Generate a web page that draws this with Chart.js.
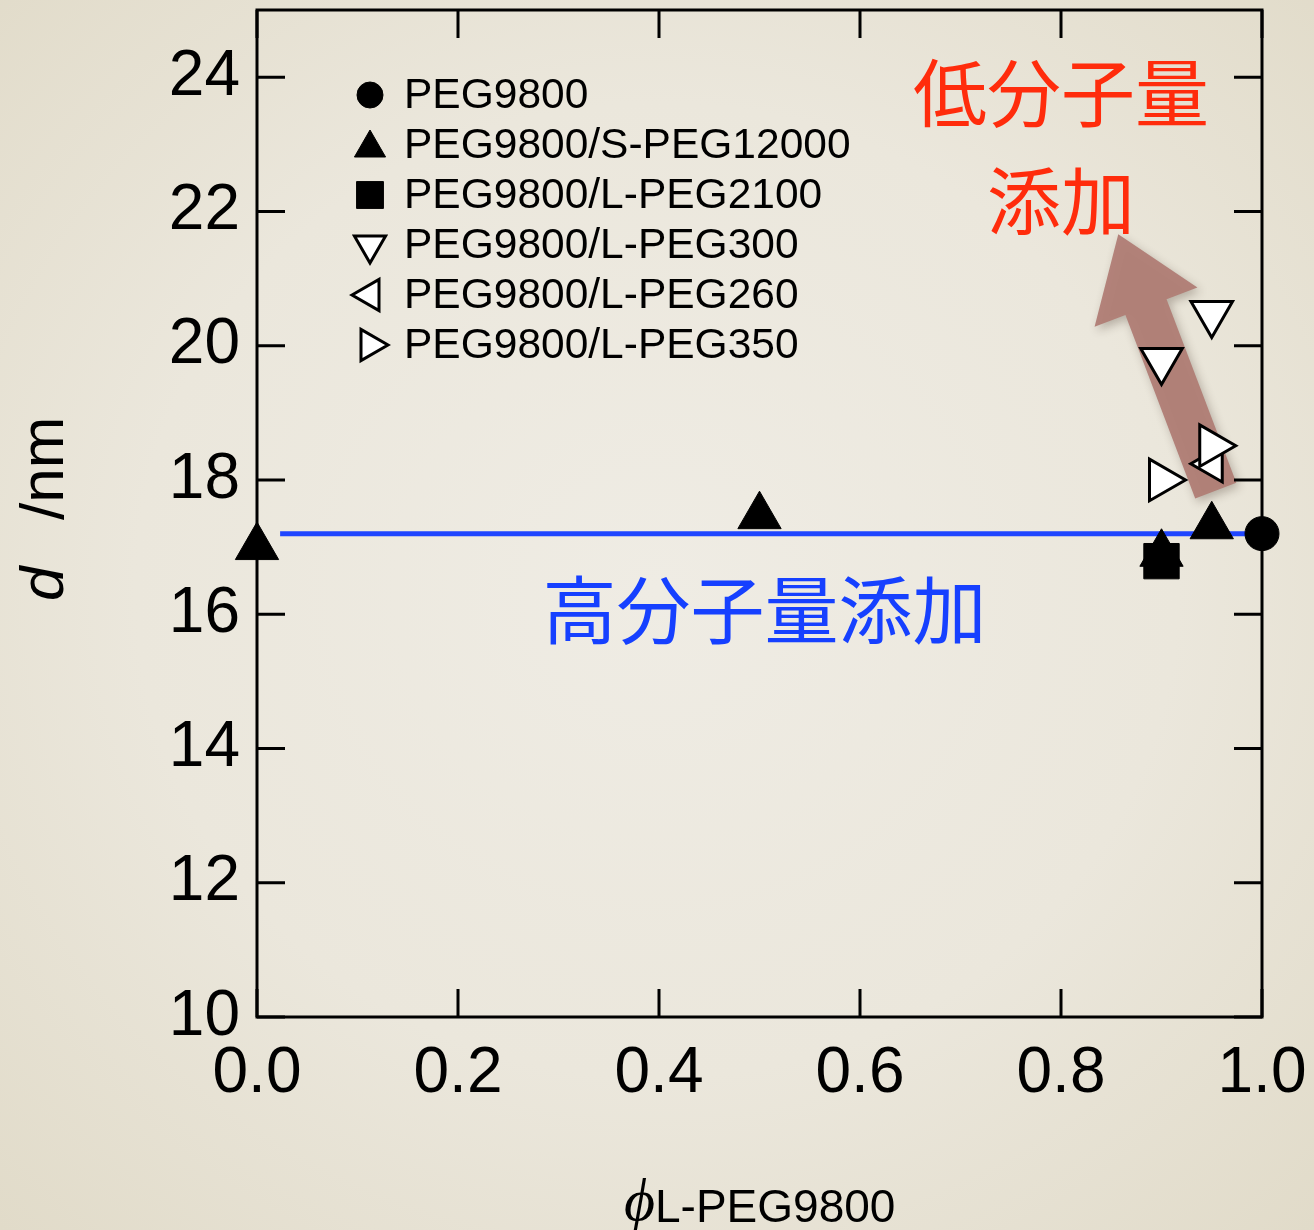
<!DOCTYPE html>
<html>
<head>
<meta charset="utf-8">
<script src="https://cdn.jsdelivr.net/npm/chart.js@4.4.1/dist/chart.umd.min.js"></script>
<style>
  html, body { margin: 0; padding: 0; }
  body {
    width: 1314px; height: 1230px; overflow: hidden;
    background: radial-gradient(ellipse 72% 72% at 50% 48%, #efece4 0%, #ebe7dc 55%, #e1dbc9 100%);
  }
  #wrap { position: relative; width: 1314px; height: 1230px; }
</style>
</head>
<body>
<div id="wrap"><canvas id="c" width="1314" height="1230"></canvas></div>
<script>
// Axis ticks
const xTicks = [0.0, 0.2, 0.4, 0.6, 0.8, 1.0];
const yTicks = [10, 12, 14, 16, 18, 20, 22, 24];

// Series: volume fraction of L-PEG9800 vs gel mesh size d (nm)
const peg9800X = [1.0];
const peg9800D = [17.2];
const sPeg12000X = [0.0, 0.5, 0.9, 0.95];
const sPeg12000D = [17.0, 17.46, 16.9, 17.31];
const lPeg2100X = [0.9];
const lPeg2100D = [16.79];
const lPeg300X = [0.9, 0.95];
const lPeg300D = [19.78, 20.48];
const lPeg260X = [0.95];
const lPeg260D = [18.24];
const lPeg350X = [0.9, 0.95];
const lPeg350D = [18.0, 18.51];

// Guide line for the high-molecular-weight additive level
const guideX = [0.023, 0.99];
const guideD = [17.2, 17.2];

// Arrow toward the low-molecular-weight additive points (tail -> tip)
const arrowX = [0.954, 0.857];
const arrowD = [17.84, 21.66];

const seriesLabels = ['PEG9800', 'PEG9800/S-PEG12000', 'PEG9800/L-PEG2100',
  'PEG9800/L-PEG300', 'PEG9800/L-PEG260', 'PEG9800/L-PEG350'];

const pts = (xs, ys) => xs.map((x, i) => ({ x: x, y: ys[i] }));

const FONT = "'Liberation Sans', Arial, sans-serif";
const CJK = "'Noto Sans CJK JP', 'Noto Sans CJK SC', sans-serif";

function markerSet(label, data, style, rotation, radius, filled, order) {
  return {
    label: label,
    data: data,
    pointStyle: style,
    rotation: rotation,
    pointRadius: radius,
    pointHoverRadius: radius,
    pointBackgroundColor: filled ? '#000' : '#fff',
    pointBorderColor: '#000',
    pointBorderWidth: filled ? 1 : 3,
    showLine: false,
    clip: false,
    order: order,
    legendRadius: style === 'circle' ? 13 : (style === 'rect' ? 19 : 18),
    filled: filled
  };
}

const datasets = [
  markerSet(seriesLabels[0], pts(peg9800X, peg9800D), 'circle', 0, 17, true, 1),
  markerSet(seriesLabels[1], pts(sPeg12000X, sPeg12000D), 'triangle', 0, 25, true, 3),
  markerSet(seriesLabels[2], pts(lPeg2100X, lPeg2100D), 'rect', 0, 25, true, 2),
  markerSet(seriesLabels[3], pts(lPeg300X, lPeg300D), 'triangle', 180, 24, false, 4),
  markerSet(seriesLabels[4], pts(lPeg260X, lPeg260D), 'triangle', 270, 21, false, 6),
  markerSet(seriesLabels[5], pts(lPeg350X, lPeg350D), 'triangle', 90, 24, false, 5),
  {
    label: 'guide',
    data: pts(guideX, guideD),
    showLine: true,
    borderColor: '#1f45ff',
    borderWidth: 5,
    pointRadius: 0,
    pointHoverRadius: 0,
    clip: false,
    order: 10,
    isGuide: true
  }
];

// Translucent arrow drawn under the markers
const arrowPlugin = {
  id: 'arrow',
  beforeDatasetsDraw(chart) {
    const { ctx, scales: { x, y } } = chart;
    const x0 = x.getPixelForValue(arrowX[0]), y0 = y.getPixelForValue(arrowD[0]);
    const x1 = x.getPixelForValue(arrowX[1]), y1 = y.getPixelForValue(arrowD[1]);
    const dx = x1 - x0, dy = y1 - y0, len = Math.hypot(dx, dy);
    const ux = dx / len, uy = dy / len, nx = -uy, ny = ux;
    const shaftHalf = 22, headHalf = 55, headLen = 78;
    const bx = x1 - ux * headLen, by = y1 - uy * headLen;
    ctx.save();
    ctx.beginPath();
    ctx.moveTo(x0 + nx * shaftHalf, y0 + ny * shaftHalf);
    ctx.lineTo(bx + nx * shaftHalf, by + ny * shaftHalf);
    ctx.lineTo(bx + nx * headHalf, by + ny * headHalf);
    ctx.lineTo(x1, y1);
    ctx.lineTo(bx - nx * headHalf, by - ny * headHalf);
    ctx.lineTo(bx - nx * shaftHalf, by - ny * shaftHalf);
    ctx.lineTo(x0 - nx * shaftHalf, y0 - ny * shaftHalf);
    ctx.closePath();
    ctx.shadowColor = 'rgba(60,40,30,0.3)';
    ctx.shadowBlur = 10;
    ctx.shadowOffsetX = 3;
    ctx.shadowOffsetY = 4;
    ctx.fillStyle = 'rgba(176,126,118,0.96)';
    ctx.fill();
    ctx.restore();
  }
};

// Frame with inward ticks on all four sides, legend, annotations and axis titles
const decorPlugin = {
  id: 'decor',
  afterDatasetsDraw(chart) {
    const { ctx, chartArea: a, scales: { x, y } } = chart;
    ctx.save();
    // frame
    ctx.strokeStyle = '#000';
    ctx.lineWidth = 3;
    ctx.strokeRect(a.left, a.top, a.right - a.left, a.bottom - a.top);
    const tl = 28;
    ctx.beginPath();
    xTicks.forEach(v => {
      const px = x.getPixelForValue(v);
      ctx.moveTo(px, a.bottom); ctx.lineTo(px, a.bottom - tl);
      ctx.moveTo(px, a.top); ctx.lineTo(px, a.top + tl);
    });
    yTicks.forEach(v => {
      const py = y.getPixelForValue(v);
      ctx.moveTo(a.left, py); ctx.lineTo(a.left + tl, py);
      ctx.moveTo(a.right, py); ctx.lineTo(a.right - tl, py);
    });
    ctx.stroke();

    // legend
    const lx = 370, ly0 = 95, step = 50;
    chart.data.datasets.forEach((ds, i) => {
      if (ds.isGuide) return;
      const yy = ly0 + i * step;
      ctx.fillStyle = ds.filled ? '#000' : '#fff';
      ctx.strokeStyle = '#000';
      ctx.lineWidth = ds.filled ? 1 : 3;
      Chart.helpers.drawPoint(ctx, {
        pointStyle: ds.pointStyle, rotation: ds.rotation,
        radius: ds.legendRadius, borderWidth: ctx.lineWidth
      }, lx, yy + (ds.pointStyle === 'triangle' && ds.rotation === 0 ? 3 : 0));
      ctx.fillStyle = '#000';
      ctx.font = '42.5px ' + FONT;
      ctx.textBaseline = 'middle';
      ctx.textAlign = 'left';
      ctx.fillText(ds.label, 404, yy + 1);
    });

    // annotations
    ctx.font = '74px ' + CJK;
    ctx.textAlign = 'center';
    ctx.textBaseline = 'middle';
    ctx.fillStyle = '#ff2c0c';
    ctx.fillText('低分子量', x.getPixelForValue(0.8), y.getPixelForValue(23.76));
    ctx.fillText('添加', x.getPixelForValue(0.8), y.getPixelForValue(22.16));
    ctx.fillStyle = '#1640ff';
    ctx.fillText('高分子量添加', x.getPixelForValue(0.505), y.getPixelForValue(16.06));

    // x-axis title
    ctx.fillStyle = '#000';
    ctx.textBaseline = 'alphabetic';
    ctx.textAlign = 'left';
    ctx.font = 'italic 60px "Liberation Serif", serif';
    ctx.fillText('ϕ', 624, 1220);
    ctx.font = '46px ' + FONT;
    ctx.fillText('L-PEG9800', 655, 1222);

    // y-axis title
    ctx.save();
    ctx.translate(63, 0);
    ctx.rotate(-Math.PI / 2);
    ctx.textAlign = 'left';
    ctx.textBaseline = 'alphabetic';
    ctx.font = 'italic 62px ' + FONT;
    ctx.fillText('d', -601, 0);
    ctx.font = '62px ' + FONT;
    ctx.fillText('/nm', -520, 0);
    ctx.restore();
    ctx.restore();
  }
};

new Chart(document.getElementById('c'), {
  type: 'scatter',
  data: { datasets: datasets },
  options: {
    responsive: false,
    devicePixelRatio: 1,
    animation: false,
    events: [],
    layout: { autoPadding: false, padding: { left: 0, top: 10, right: 52, bottom: 0 } },
    plugins: { legend: { display: false }, tooltip: { enabled: false } },
    scales: {
      x: {
        type: 'linear', min: 0, max: 1,
        afterBuildTicks: s => { s.ticks = xTicks.map(v => ({ value: v })); },
        afterFit: s => { s.height = 213; s.paddingLeft = 0; s.paddingRight = 0; },
        ticks: {
          callback: v => Number(v).toFixed(1),
          font: { family: FONT, size: 64 }, color: '#000',
          padding: 19, maxRotation: 0, autoSkip: false
        },
        grid: { display: true, drawOnChartArea: false, drawTicks: false },
        border: { display: false }
      },
      y: {
        type: 'linear', min: 10, max: 25,
        afterBuildTicks: s => { s.ticks = yTicks.map(v => ({ value: v })); },
        afterFit: s => { s.width = 257; s.paddingTop = 0; s.paddingBottom = 0; },
        ticks: {
          callback: v => String(v),
          font: { family: FONT, size: 64 }, color: '#000',
          padding: 17, autoSkip: false
        },
        grid: { display: true, drawOnChartArea: false, drawTicks: false },
        border: { display: false }
      }
    }
  },
  plugins: [arrowPlugin, decorPlugin]
});
</script>
</body>
</html>
